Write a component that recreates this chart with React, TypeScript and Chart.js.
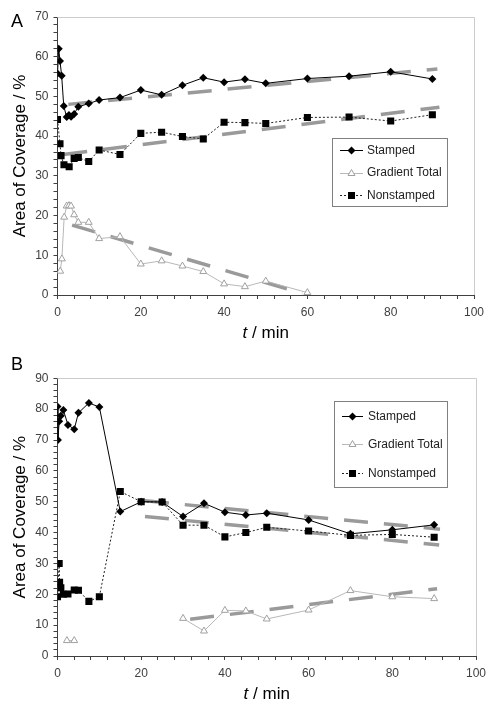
import React, { useEffect, useRef } from 'react';
import { Chart, registerables } from 'chart.js';

Chart.register(...registerables);

const FONT = "'Liberation Sans', Arial, Helvetica, sans-serif";
Chart.defaults.font.family = FONT;
Chart.defaults.font.size = 12;

// ---------- Panel A data ----------
const aStampedT = [0, 0.3, 0.6, 1, 1.5, 2.2, 2.75, 3.25, 4, 5, 7.5, 10, 15, 20, 25, 30, 35, 40, 45, 50, 60, 70, 80, 90];
const aStampedV = [55.8, 62.0, 58.9, 55.2, 47.6, 44.8, 45.3, 44.9, 45.6, 47.4, 48.2, 49.1, 49.7, 51.6, 50.4, 52.8, 54.7, 53.6, 54.3, 53.3, 54.5, 55.1, 56.2, 54.4];
const aNonT = [0, 0.6, 0.85, 1.55, 2.8, 4, 5, 7.5, 10, 15, 20, 25, 30, 35, 40, 45, 50, 60, 70, 80, 90];
const aNonV = [44.2, 38.1, 35.1, 32.8, 32.3, 34.4, 34.6, 33.6, 36.5, 35.4, 40.7, 41.0, 39.9, 39.3, 43.5, 43.4, 43.2, 44.7, 44.8, 43.8, 45.4];
const aGradT = [0.65, 1.05, 1.6, 2.2, 2.75, 3.25, 4, 5, 7.5, 10, 15, 20, 25, 30, 35, 40, 45, 50, 60];
const aGradV = [6.0, 9.1, 19.6, 22.4, 22.5, 22.4, 20.2, 18.3, 18.3, 14.2, 14.7, 7.8, 8.6, 7.3, 5.9, 2.8, 2.1, 3.5, 0.6];
const aTrendStampedX = [2.6, 91.2];
const aTrendStampedY = [48.0, 56.9];
const aTrendNonX = [1.4, 91.7];
const aTrendNonY = [35.4, 47.3];
const aTrendGradX = [3.5, 58.8];
const aTrendGradY = [17.6, 0.4];

// ---------- Panel B data ----------
const bStampedT = [0, 0.1, 0.4, 0.8, 1.4, 2.5, 4, 5, 7.5, 10, 15, 20, 25, 30, 35, 40, 45, 50, 60, 70, 80, 90];
const bStampedV = [80.9, 70.0, 76.1, 77.9, 79.7, 74.9, 73.5, 78.8, 82.0, 80.7, 46.8, 50.0, 49.9, 45.2, 49.5, 46.6, 45.7, 46.3, 44.1, 39.6, 40.9, 42.5];
const bNonT = [0, 0.4, 0.5, 0.8, 1.4, 2.5, 4, 5, 7.5, 10, 15, 20, 25, 30, 35, 40, 45, 50, 60, 70, 80, 90];
const bNonV = [19.2, 30.0, 23.9, 22.1, 20.0, 20.1, 21.4, 21.3, 17.7, 19.2, 53.3, 50.0, 49.9, 42.4, 42.4, 38.6, 40.0, 41.7, 40.5, 39.1, 39.4, 38.5];
const bGradT = [2.25, 4, 15, 30, 35, 40, 45, 50, 60, 70, 80, 90];
const bGradV = [5.0, 5.0, null, 12.2, 8.1, 14.8, 14.6, 12.0, 14.9, 21.2, 19.2, 18.6];
const bTrendStampedX = [20.9, 91.4];
const bTrendStampedY = [50.3, 41.1];
const bTrendNonX = [20.9, 91.2];
const bTrendNonY = [45.2, 36.0];
const bTrendGradX = [31.7, 90.7];
const bTrendGradY = [11.9, 21.8];

const seriesNames = ['Stamped', 'Gradient Total', 'Nonstamped'];
const yTitle = 'Area of Coverage / %';
const xTitleItalic = 't';
const xTitleRest = ' / min';

const W = 496;
const H = 355;

const zip = (xs: number[], ys: (number | null)[]) => xs.map((x, i) => ({ x, y: ys[i] }));

const STYLE = {
  stamped: { line: '#000000', width: 1, dash: [] as number[], marker: 'diamond' },
  grad: { line: '#b8b8b8', width: 1, dash: [] as number[], marker: 'triangle' },
  non: { line: '#222222', width: 1, dash: [2, 2], marker: 'square' },
};
const TREND_COLOR = '#9a9a9a';
const TREND_WIDTH = 3.5;
const TREND_DASH = [24, 16];

function drawMarker(ctx: CanvasRenderingContext2D, kind: string, x: number, y: number) {
  ctx.save();
  ctx.setLineDash([]);
  ctx.beginPath();
  if (kind === 'diamond') {
    const r = 4;
    ctx.moveTo(x - r, y); ctx.lineTo(x, y - r); ctx.lineTo(x + r, y); ctx.lineTo(x, y + r); ctx.closePath();
    ctx.fillStyle = '#000'; ctx.fill();
  } else if (kind === 'square') {
    const h = 3.5;
    ctx.rect(x - h, y - h, 2 * h, 2 * h);
    ctx.fillStyle = '#000'; ctx.fill();
  } else {
    const r = 4;
    ctx.moveTo(x, y - r);
    ctx.lineTo(x + 0.866 * r, y + 0.5 * r);
    ctx.lineTo(x - 0.866 * r, y + 0.5 * r);
    ctx.closePath();
    ctx.fillStyle = '#fff'; ctx.fill();
    ctx.strokeStyle = '#a0a0a0'; ctx.lineWidth = 1; ctx.stroke();
  }
  ctx.restore();
}

type PanelCfg = {
  letter: string;
  letterX: number;
  letterY: number;
  plotTop: number;
  plotBottom: number;
  plotLeft: number;
  plotRight: number;
  yMax: number;
  legendBox: { x: number; y: number; w: number; h: number };
  legendRows: number[];
  lineX0: number;
  lineX1: number;
  textX: number;
  stamped: { x: number; y: number | null }[];
  grad: { x: number; y: number | null }[];
  non: { x: number; y: number | null }[];
  trends: { x: number; y: number | null }[][];
};

function makeConfig(p: PanelCfg): any {
  const decor = {
    id: 'decor' + p.letter,
    beforeDatasetsDraw(chart: any) {
      const { ctx, chartArea: ca } = chart;
      ctx.save();
      ctx.strokeStyle = '#cccccc';
      ctx.lineWidth = 1;
      ctx.beginPath();
      ctx.moveTo(ca.left, Math.round(ca.top) + 0.5);
      ctx.lineTo(Math.round(ca.right) + 0.5, Math.round(ca.top) + 0.5);
      ctx.lineTo(Math.round(ca.right) + 0.5, ca.bottom);
      ctx.stroke();
      ctx.restore();
    },
    afterDraw(chart: any) {
      const { ctx, chartArea: ca } = chart;
      ctx.save();
      // panel letter
      ctx.fillStyle = '#000';
      ctx.font = `18px ${FONT}`;
      ctx.textAlign = 'left';
      ctx.textBaseline = 'alphabetic';
      ctx.fillText(p.letter, p.letterX, p.letterY);
      // y title
      ctx.save();
      ctx.font = `17px ${FONT}`;
      ctx.translate(25, (ca.top + ca.bottom) / 2);
      ctx.rotate(-Math.PI / 2);
      ctx.textAlign = 'center';
      ctx.fillStyle = '#000';
      ctx.fillText(yTitle, 0, 0);
      ctx.restore();
      // x title
      ctx.font = `italic 17px ${FONT}`;
      const w1 = ctx.measureText(xTitleItalic).width;
      ctx.font = `17px ${FONT}`;
      const w2 = ctx.measureText(xTitleRest).width;
      const cx = (ca.left + ca.right) / 2;
      const x0 = cx - (w1 + w2) / 2;
      const by = ca.bottom + 42.5;
      ctx.textAlign = 'left';
      ctx.font = `italic 17px ${FONT}`;
      ctx.fillText(xTitleItalic, x0, by);
      ctx.font = `17px ${FONT}`;
      ctx.fillText(xTitleRest, x0 + w1, by);
      // legend
      const b = p.legendBox;
      ctx.fillStyle = '#fff';
      ctx.fillRect(b.x, b.y, b.w, b.h);
      ctx.strokeStyle = '#808080';
      ctx.lineWidth = 1;
      ctx.strokeRect(Math.round(b.x) + 0.5, Math.round(b.y) + 0.5, Math.round(b.w), Math.round(b.h));
      const styles = [STYLE.stamped, STYLE.grad, STYLE.non];
      styles.forEach((s, i) => {
        const y = p.legendRows[i];
        ctx.save();
        ctx.strokeStyle = s.line;
        ctx.lineWidth = s.width;
        ctx.setLineDash(s.dash);
        ctx.beginPath();
        ctx.moveTo(p.lineX0, Math.round(y) + 0.5);
        ctx.lineTo(p.lineX1, Math.round(y) + 0.5);
        ctx.stroke();
        ctx.restore();
        drawMarker(ctx, s.marker, (p.lineX0 + p.lineX1) / 2, Math.round(y) + 0.5);
        ctx.fillStyle = '#222';
        ctx.font = `12px ${FONT}`;
        ctx.textBaseline = 'middle';
        ctx.textAlign = 'left';
        ctx.fillText(seriesNames[i], p.textX, y + 0.5);
      });
      ctx.restore();
    },
  };

  const trendDs = p.trends.map((d) => ({
    data: d,
    borderColor: TREND_COLOR,
    borderWidth: TREND_WIDTH,
    borderDash: TREND_DASH,
    pointRadius: 0,
    fill: false,
    order: 10,
  }));

  return {
    type: 'line',
    data: {
      datasets: [
        {
          label: seriesNames[0],
          data: p.stamped,
          borderColor: STYLE.stamped.line,
          borderWidth: 1,
          pointStyle: 'rectRot',
          pointRadius: 4,
          pointBackgroundColor: '#000',
          pointBorderColor: '#000',
          pointBorderWidth: 0,
          order: 1,
        },
        {
          label: seriesNames[1],
          data: p.grad,
          borderColor: STYLE.grad.line,
          borderWidth: 1,
          pointStyle: 'triangle',
          pointRadius: 4,
          pointBackgroundColor: '#fff',
          pointBorderColor: '#a0a0a0',
          pointBorderWidth: 1,
          spanGaps: false,
          order: 2,
        },
        {
          label: seriesNames[2],
          data: p.non,
          borderColor: STYLE.non.line,
          borderWidth: 1,
          borderDash: STYLE.non.dash,
          pointStyle: 'rect',
          pointRadius: 5,
          pointBackgroundColor: '#000',
          pointBorderColor: '#000',
          pointBorderWidth: 0,
          order: 1,
        },
        ...trendDs,
      ],
    },
    options: {
      responsive: false,
      animation: false,
      events: [],
      layout: { padding: { top: p.plotTop, right: W - p.plotRight, left: 0, bottom: 0 } },
      plugins: { legend: { display: false }, tooltip: { enabled: false }, title: { display: false } },
      elements: { line: { tension: 0 } },
      scales: {
        x: {
          type: 'linear',
          min: 0,
          max: 100,
          afterFit: (s: any) => { s.height = H - p.plotBottom; },
          border: { display: true, color: '#404040', width: 1 },
          grid: { display: true, drawOnChartArea: false, drawTicks: true, tickLength: 4, color: '#404040' },
          ticks: {
            stepSize: 4,
            autoSkip: false,
            maxRotation: 0,
            padding: 6,
            color: '#404040',
            font: { size: 12, family: FONT },
            callback: (v: number) => (v % 20 === 0 ? String(v) : ''),
          },
        },
        y: {
          type: 'linear',
          min: 0,
          max: p.yMax,
          afterFit: (s: any) => { s.width = p.plotLeft; },
          border: { display: true, color: '#404040', width: 1 },
          grid: { display: true, drawOnChartArea: false, drawTicks: true, tickLength: 4, color: '#404040' },
          ticks: {
            stepSize: 2,
            autoSkip: false,
            padding: 5,
            color: '#404040',
            font: { size: 12, family: FONT },
            callback: (v: number) => (v % 10 === 0 ? String(v) : ''),
          },
        },
      },
    },
    plugins: [decor],
  };
}

const panelA: PanelCfg = {
  letter: 'A',
  letterX: 11,
  letterY: 27,
  plotTop: 17,
  plotBottom: 295,
  plotLeft: 57.5,
  plotRight: 474,
  yMax: 70,
  legendBox: { x: 332, y: 138, w: 115, h: 68 },
  legendRows: [150, 172.5, 195],
  lineX0: 340,
  lineX1: 363,
  textX: 367,
  stamped: zip(aStampedT, aStampedV),
  grad: zip(aGradT, aGradV),
  non: zip(aNonT, aNonV),
  trends: [zip(aTrendStampedX, aTrendStampedY), zip(aTrendNonX, aTrendNonY), zip(aTrendGradX, aTrendGradY)],
};

const panelB: PanelCfg = {
  letter: 'B',
  letterX: 11,
  letterY: 15,
  plotTop: 23.3,
  plotBottom: 301,
  plotLeft: 57.5,
  plotRight: 476,
  yMax: 90,
  legendBox: { x: 334, y: 46, w: 113, h: 86 },
  legendRows: [60.7, 89.3, 117.7],
  lineX0: 342,
  lineX1: 363,
  textX: 368,
  stamped: zip(bStampedT, bStampedV),
  grad: zip(bGradT, bGradV),
  non: zip(bNonT, bNonV),
  trends: [zip(bTrendStampedX, bTrendStampedY), zip(bTrendNonX, bTrendNonY), zip(bTrendGradX, bTrendGradY)],
};

function Panel({ cfg, top }: { cfg: PanelCfg; top: number }) {
  const ref = useRef<HTMLCanvasElement>(null);
  useEffect(() => {
    const chart = new Chart(ref.current as HTMLCanvasElement, makeConfig(cfg));
    return () => chart.destroy();
  }, [cfg]);
  return (
    <canvas
      ref={ref}
      width={W}
      height={H}
      style={{ position: 'absolute', left: 0, top, width: W, height: H, display: 'block' }}
    />
  );
}

export default function App() {
  return (
    <div style={{ position: 'fixed', left: 0, top: 0, width: W, height: 710, background: '#fff' }}>
      <Panel cfg={panelA} top={0} />
      <Panel cfg={panelB} top={355} />
    </div>
  );
}
